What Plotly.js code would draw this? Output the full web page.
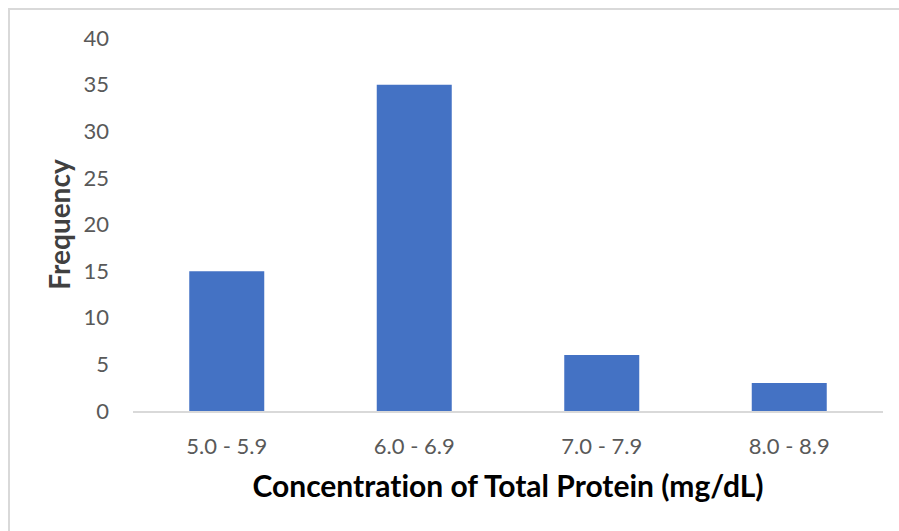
<!DOCTYPE html>
<html>
<head>
<meta charset="utf-8">
<script src="https://cdn.plot.ly/plotly-3.0.1.min.js"></script>
<style>
  html, body { margin: 0; padding: 0; background: #fff; }
  #wrap { position: relative; width: 899px; height: 531px; }
  #chart { width: 899px; height: 531px; }
  #chart text { font-variant-ligatures: none; font-feature-settings: "liga" 0; }
  #frame { position: absolute; left: 8px; top: 8px; width: 891px; height: 523px;
           border-top: 2px solid #d9d9d9; border-left: 2px solid #d9d9d9; box-sizing: border-box; pointer-events: none; }
</style>
</head>
<body>
<div id="wrap">
  <div id="chart"></div>
  <div id="frame"></div>
</div>
<script>
const categories = ["5.0 - 5.9", "6.0 - 6.9", "7.0 - 7.9", "8.0 - 8.9"];
const frequency = [15, 35, 6, 3];
const yTicks = [0, 5, 10, 15, 20, 25, 30, 35, 40];

const trace = {
  type: "bar",
  x: categories,
  y: frequency,
  marker: { color: "#4472C4" },
  hoverinfo: "x+y"
};

const layout = {
  width: 899,
  height: 531,
  margin: { l: 133, r: 16, t: 38, b: 120, pad: 0 },
  paper_bgcolor: "#ffffff",
  plot_bgcolor: "#ffffff",
  bargap: 0.6,
  showlegend: false,
  font: { family: "Lato, sans-serif", color: "#595959" },
  xaxis: {
    type: "category",
    showgrid: false,
    showline: true,
    linecolor: "#d9d9d9",
    linewidth: 1.5,
    ticks: "",
    ticklabelstandoff: 15,
    tickfont: { size: 22, color: "#595959", family: "Lato, sans-serif" },
    title: {
      text: "Concentration of Total Protein (mg/dL)",
      font: { size: 30, color: "#000000", family: "Lato, sans-serif", weight: "bold" },
      standoff: 18
    },
    automargin: false
  },
  yaxis: {
    range: [0, 40],
    tickvals: yTicks,
    ticktext: yTicks.map(String),
    showgrid: false,
    zeroline: false,
    showline: false,
    ticks: "",
    ticklabelstandoff: 23,
    tickfont: { size: 22, color: "#595959", family: "Lato, sans-serif" },
    title: {
      text: "Frequency",
      font: { size: 28, color: "#404040", family: "Lato, sans-serif", weight: "bold" },
      standoff: 4
    },
    automargin: false
  }
};

Plotly.newPlot("chart", [trace], layout, { displayModeBar: false, staticPlot: true });
</script>
</body>
</html>
